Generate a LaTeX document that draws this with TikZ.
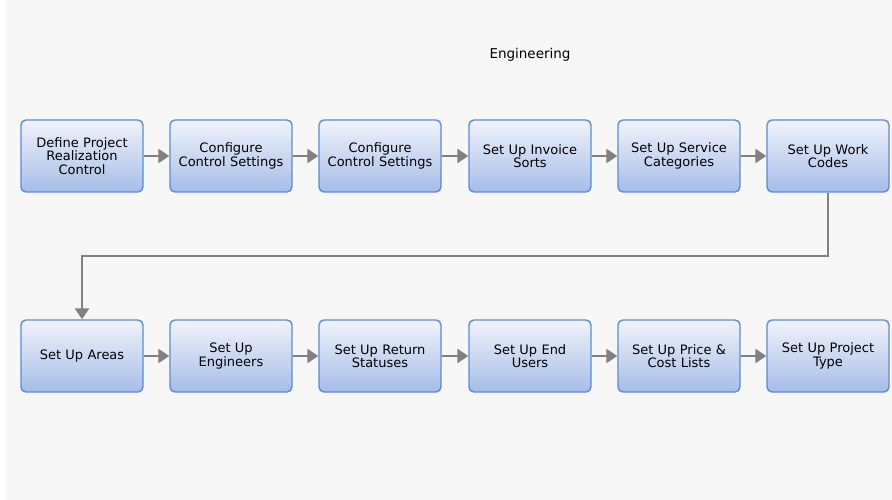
\documentclass[tikz,border=0pt]{standalone}
\usepackage{fontspec}
\setmainfont{DejaVu Sans}
\usetikzlibrary{arrows.meta}
\definecolor{bgc}{HTML}{F7F7F7}
\definecolor{boxtop}{HTML}{F0F3FA}
\definecolor{boxbot}{HTML}{A6BDE8}
\definecolor{boxline}{HTML}{5C8BD8}
\definecolor{arrc}{HTML}{808080}
\tikzset{
  stepbox/.style={draw=boxline, line width=1.4pt, rounded corners=5pt,
    top color=boxtop, bottom color=boxbot, minimum width=122pt, minimum height=72pt,
    text width=120pt, align=center, font=\fontsize{13}{13.2}\selectfont, inner sep=1pt},
  conn/.style={draw=arrc, line width=2.6pt, -{Triangle[length=11pt,width=14pt]}}
}
\begin{document}
\begin{tikzpicture}[x=1pt,y=-1pt]
\useasboundingbox (0,0) rectangle (892,500);
\fill[white] (0,0) rectangle (892,500);
\fill[bgc] (6,0) rectangle (892,500);
\node[font=\fontsize{13.5}{14}\selectfont] (title) at (530,55) {Engineering};
\node[stepbox] (a1) at (82,156) {Define Project\\Realization\\Control};
\node[stepbox] (a2) at (231,156) {Configure\\Control Settings};
\node[stepbox] (a3) at (380,156) {Configure\\Control Settings};
\node[stepbox] (a4) at (530,156) {Set Up Invoice\\Sorts};
\node[stepbox] (a5) at (679,156) {Set Up Service\\Categories};
\node[stepbox] (a6) at (828,156) {Set Up Work\\Codes};
\node[stepbox] (b1) at (82,356) {Set Up Areas};
\node[stepbox] (b2) at (231,356) {Set Up\\Engineers};
\node[stepbox] (b3) at (380,356) {Set Up Return\\Statuses};
\node[stepbox] (b4) at (530,356) {Set Up End\\Users};
\node[stepbox] (b5) at (679,356) {Set Up Price \&\\Cost Lists};
\node[stepbox] (b6) at (828,356) {Set Up Project\\Type};
\foreach \p/\q in {a1/a2,a2/a3,a3/a4,a4/a5,a5/a6,b1/b2,b2/b3,b3/b4,b4/b5,b5/b6}
  \draw[conn] (\p.east) -- (\q.west);
\coordinate (m1) at (828,256);
\coordinate (m2) at (82,256);
\draw[conn] (a6.south) -- (m1) -- (m2) -- (b1.north);
\end{tikzpicture}
\end{document}
